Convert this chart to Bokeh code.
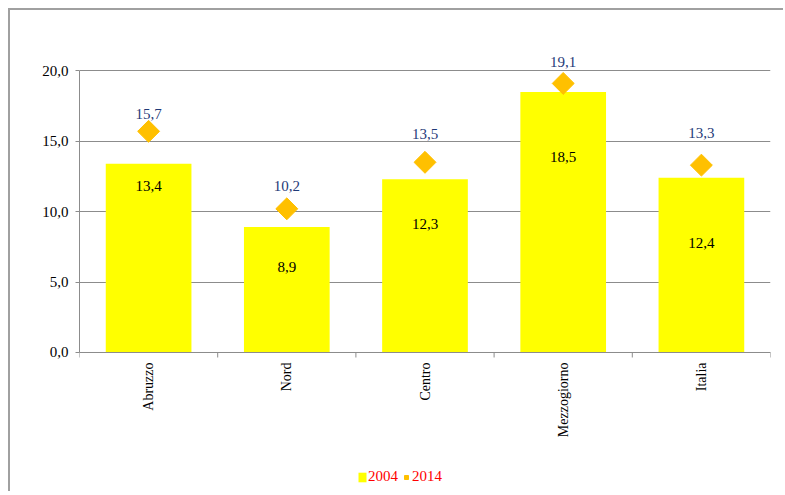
import math
from bokeh.plotting import figure
from bokeh.models import (Range1d, FixedTicker, ColumnDataSource, Legend, LegendItem, Span)
from bokeh.core.properties import value
from bokeh.embed import file_html
from bokeh.resources import INLINE

# ---- data ----
categories = ["Abruzzo", "Nord", "Centro", "Mezzogiorno", "Italia"]
values_2004 = [13.4, 8.9, 12.3, 18.5, 12.4]
values_2014 = [15.7, 10.2, 13.5, 19.1, 13.3]
# label anchor heights (data units), as placed in the original
label_y_2004 = [11.8, 6.05, 9.15, 13.85, 7.75]
label_y_2014 = [16.95, 11.85, 15.5, 20.65, 15.55]
y_ticks = [0, 5, 10, 15, 20]
y_tick_labels = ["0,0", "5,0", "10,0", "15,0", "20,0"]

FONT = "Liberation Serif"
GRAY = "#8c8c8c"

def fmt(v):
    return f"{v:.1f}".replace(".", ",")

n = len(categories)
xs = [i + 0.5 for i in range(n)]
src = ColumnDataSource(dict(
    x=xs, cat=categories, v04=values_2004, v14=values_2014,
    l04=label_y_2004, l14=label_y_2014,
    t04=[fmt(v) for v in values_2004], t14=[fmt(v) for v in values_2014],
))

# frame extends below zero so the category labels and legend live inside it
p = figure(frame_width=691, frame_height=460, output_backend="svg", toolbar_location=None,
           x_range=Range1d(0, n), y_range=Range1d(-9.655, 23),
           x_axis_location=None,
           min_border_left=69, min_border_right=13, min_border_top=18,
           min_border_bottom=3, outline_line_color=None,
           background_fill_color="white", border_fill_color="white",
           styles={"margin-left": "8px", "margin-top": "8px",
                   "border-left": "2px solid #a0a0a0", "border-top": "2px solid #a0a0a0"})

p.xgrid.visible = False
p.ygrid.ticker = FixedTicker(ticks=y_ticks)
p.ygrid.grid_line_color = GRAY

bars = p.vbar(x="x", top="v04", width=0.62, source=src, fill_color="#FFFF00", line_color=None)
pts = p.scatter(x="x", y="v14", source=src, marker="square", size=15.5, angle=math.pi / 4,
                fill_color="#FFC000", line_color="#FFC000")

p.text(x="x", y="l04", text="t04", source=src, text_font=value(FONT), text_font_size="15px",
       text_color="black", text_align="center", text_baseline="middle")
p.text(x="x", y="l14", text="t14", source=src, text_font=value(FONT), text_font_size="15px",
       text_color="#1F3A78", text_align="center", text_baseline="middle")

# category axis: line at zero, ticks at category boundaries, vertical labels
p.add_layout(Span(location=0, dimension="width", line_color=GRAY, line_width=1))
bounds = list(range(n + 1))
tick_len = 5 / 14.087  # 5 px in data units
p.segment(x0=bounds, y0=[0] * len(bounds), x1=bounds, y1=[-tick_len] * len(bounds),
          line_color=GRAY, line_width=1)
p.text(x="x", y=0, text="cat", source=src, angle=math.pi / 2, y_offset=10,
       text_font=value(FONT), text_font_size="14px", text_color="black",
       text_align="right", text_baseline="middle")

# y axis
ya = p.yaxis[0]
ya.ticker = FixedTicker(ticks=y_ticks)
ya.major_label_overrides = {t: l for t, l in zip(y_ticks, y_tick_labels)}
ya.bounds = (0, 20)
ya.axis_line_color = GRAY
ya.major_tick_line_color = GRAY
ya.major_tick_in = 0
ya.major_tick_out = 4
ya.minor_tick_line_color = None
ya.major_label_standoff = 7
ya.major_label_text_font = FONT
ya.major_label_text_font_size = "15px"
ya.major_label_text_color = "black"

legend = Legend(items=[LegendItem(label="2004", renderers=[bars]),
                       LegendItem(label="2014", renderers=[pts])],
                location=(278, 3), orientation="horizontal",
                glyph_width=10, glyph_height=12, label_standoff=1, spacing=3,
                padding=0, margin=0, border_line_color=None, background_fill_alpha=0,
                label_text_font=FONT, label_text_font_size="15px", label_text_color="#FF0000")
p.add_layout(legend, "center")

open("out.html", "w").write(file_html(p, INLINE))
